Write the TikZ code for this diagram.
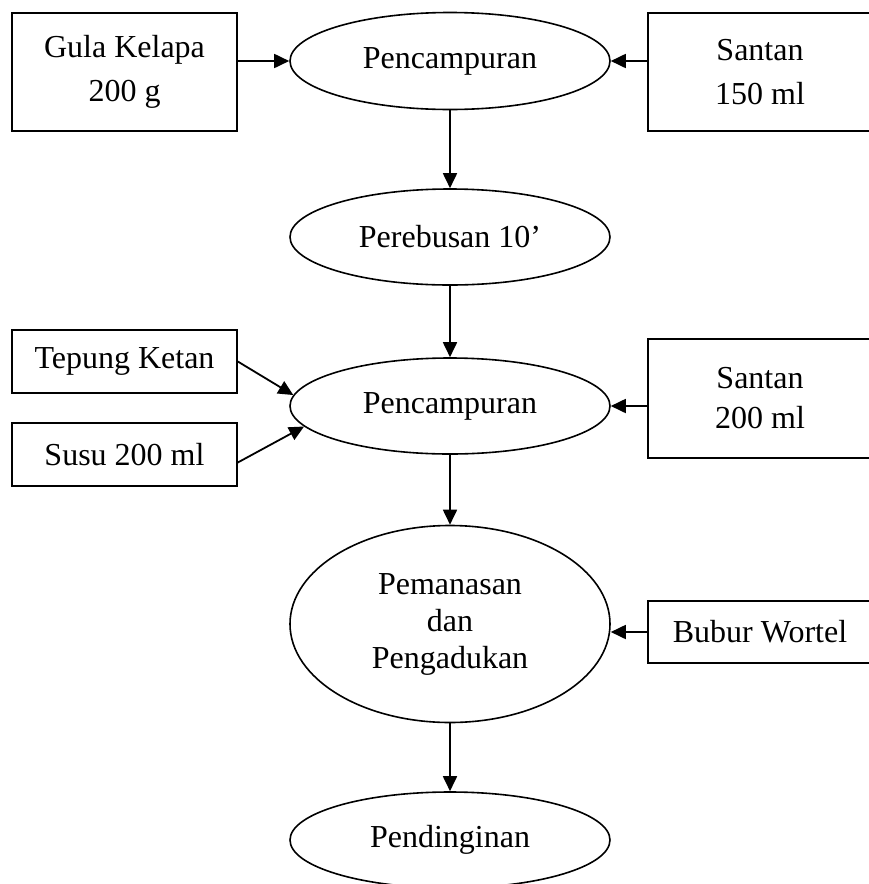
\documentclass[tikz,border=0pt]{standalone}
\usepackage{fontspec}
\setmainfont{Liberation Serif}
\usetikzlibrary{shapes.geometric,arrows.meta}
\begin{document}
\begin{tikzpicture}[x=1pt,y=-1pt,
  every node/.style={font=\fontsize{32}{44}\selectfont, align=center, inner sep=0pt},
  box/.style={draw, line width=1.6pt, rectangle},
  proc/.style={draw, line width=1.6pt, ellipse, minimum width=320pt},
  arr/.style={line width=1.8pt, -{Triangle[length=15pt,width=14pt]}}]
\useasboundingbox (0,0) rectangle (868,884);

% input boxes
\node[box, minimum width=225pt, minimum height=118pt] (gula) at (124.5,72) {Gula Kelapa\\200 g};
\node[box, minimum width=224pt, minimum height=118pt] (s1) at (760,72) {Santan\\150 ml};
\node[box, minimum width=225pt, minimum height=63pt] (tep) at (124.5,361.5) {Tepung Ketan};
\node[box, minimum width=225pt, minimum height=63pt] (susu) at (124.5,454.5) {Susu 200 ml};
\node[box, minimum width=224pt, minimum height=119pt, font=\fontsize{32}{40}\selectfont] (s2) at (760,398.5) {Santan\\200 ml};
\node[box, minimum width=224pt, minimum height=62pt] (bub) at (760,632) {Bubur Wortel};

% process ellipses
\node[proc, minimum height=97pt] (e1) at (450,61) {Pencampuran};
\node[proc, minimum height=96pt] (e2) at (450,237) {Perebusan 10’};
\node[proc, minimum height=96pt] (e3) at (450,406) {Pencampuran};
\node[proc, minimum height=197pt, font=\fontsize{32}{37}\selectfont] (e4) at (450,624) {Pemanasan\\dan\\Pengadukan};
\node[proc, minimum height=96pt] (e5) at (450,840) {Pendinginan};

% connectors
\draw[arr] (gula.east |- e1.west) -- (e1.west);
\draw[arr] (s1.west |- e1.east) -- (e1.east);
\draw[arr] (e1.south) -- (e2.north);
\draw[arr] (e2.south) -- (e3.north);
\draw[arr] (tep.east) -- (e3.176);
\draw[arr] ([yshift=-8pt]susu.east) -- (e3.188);
\draw[arr] (s2.west |- e3.east) -- (e3.east);
\draw[arr] (e3.south) -- (e4.north);
\draw[arr] (bub.west) -- (bub.west -| e4.east);
\draw[arr] (e4.south) -- (e5.north);
\end{tikzpicture}
\end{document}
